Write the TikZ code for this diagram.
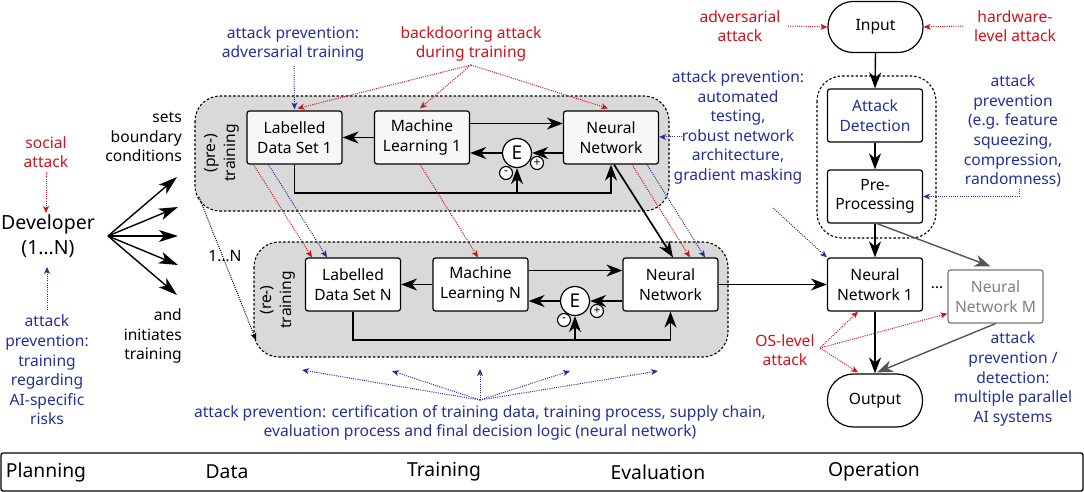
\documentclass[tikz,border=0pt]{standalone}
\usepackage{fontspec}
\setmainfont{Noto Sans}
\usetikzlibrary{arrows.meta,calc}
\definecolor{attred}{HTML}{D0121B}
\definecolor{prevblue}{HTML}{23309A}
\definecolor{areagray}{HTML}{D9D9DA}
\definecolor{mgray}{HTML}{555555}
\tikzset{
  every node/.style={font=\fontsize{15.6}{19.6}\selectfont, align=center, inner sep=0pt},
  box/.style={draw, line width=1.2pt, rounded corners=2.5pt, fill=white, minimum width=95pt, minimum height=53pt},
  pbox/.style={box, fill=black!3},
  stadium/.style={draw, line width=1.2pt, rounded corners=25pt, fill=white, minimum width=95pt, minimum height=51pt},
  area/.style={draw, dashed, dash pattern=on 2.5pt off 2pt, line width=1.1pt, fill=areagray, rounded corners=25pt},
  arr/.style={line width=1.4pt, -{Stealth[length=16pt,width=12pt,inset=5pt]}},
  darr/.style={line width=1.4pt, -{Stealth[length=19pt,width=12pt,inset=5pt]}},
  garr/.style={arr, draw=mgray, color=mgray},
  rdot/.style={attred, line width=1pt, dash pattern=on 1pt off 1.2pt, -{Stealth[length=7pt,width=6pt,inset=2pt]}},
  bdot/.style={prevblue, line width=1pt, dash pattern=on 1pt off 1.2pt, -{Stealth[length=7pt,width=6pt,inset=2pt]}},
  kdot/.style={black, line width=1pt, dash pattern=on 1pt off 1.2pt, -{Stealth[length=7pt,width=6pt,inset=2pt]}},
  ecirc/.style={draw, circle, line width=1.2pt, fill=white, minimum size=29pt, font=\fontsize{19}{20}\selectfont},
  scirc/.style={draw, circle, line width=1.1pt, fill=white, minimum size=13pt, font=\fontsize{12}{12}\selectfont},
  red/.style={text=attred},
  blue/.style={text=prevblue},
  phase/.style={font=\fontsize{19.3}{22}\selectfont},
}
\begin{document}
\begin{tikzpicture}[x=1pt,y=-1pt]
\useasboundingbox (0,0) rectangle (1084,492);

% areas
\draw[area] (195,96) rectangle (669,211);
\draw[area] (254,242) rectangle (728,357);
\draw[area, fill=none] (817,76) rectangle (936,238);

% pre-training boxes
\node[pbox] (LDS1) at (294.5,137.5) {Labelled\\Data Set 1};
\node[pbox] (ML1) at (422,137.5) {Machine\\Learning 1};
\node[pbox] (nnA) at (611,137.5) {Neural\\Network};
\node[ecirc] (E1) at (517,153) {E};
\node[scirc] (m1) at (506,173) {\raisebox{0.5pt}{-}};
\node[scirc] (p1) at (537,163) {+};
\node[rotate=90] (pretext) at (222,153) {(pre-)\\training};

% re-training boxes
\node[box] (LDSN) at (353,284.5) {Labelled\\Data Set N};
\node[box] (MLN) at (480.5,284.5) {Machine\\Learning N};
\node[box] (nnB) at (670.5,284.5) {Neural\\Network};
\node[ecirc] (EN) at (575,301) {E};
\node[scirc] (mN) at (564,320) {\raisebox{0.5pt}{-}};
\node[scirc] (pN) at (597,311) {+};
\node[rotate=90] (retext) at (278,300) {(re-)\\training};

% pre-training arrows
\draw[arr] ($(ML1.east)+(0,-14)$) -- ($(nnA.west)+(0,-14)$);
\draw[arr] (nnA.west |- E1) -- (E1);
\draw[arr] (E1) -- (ML1.east |- E1);
\draw[arr] (ML1.west) -- (LDS1.east);
\coordinate (fbA) at (294.5,193);
\draw[arr] (LDS1.south) -- (fbA) -| (nnA.south);
\draw[arr] (E1.south |- fbA) -- (E1.south);

% re-training arrows
\draw[arr] ($(MLN.east)+(0,-14)$) -- ($(nnB.west)+(0,-14)$);
\draw[arr] (nnB.west |- EN) -- (EN);
\draw[arr] (EN) -- (MLN.east |- EN);
\draw[arr] (MLN.west) -- (LDSN.east);
\coordinate (fbB) at (353,340);
\draw[arr] (LDSN.south) -- (fbB) -| (nnB.south);
\draw[arr] (EN.south |- fbB) -- (EN.south);

% operation
\node[stadium] (Input) at (875.5,27) {Input};
\node[box] (AD) at (875,115.5) {\textcolor{prevblue}{Attack}\\\textcolor{prevblue}{Detection}};
\node[box] (PP) at (875,196.5) {Pre-\\Processing};
\node[box] (NN1) at (875,284.5) {Neural\\Network 1};
\node[box, draw=mgray!80, text=black!50] (NNM) at (995.5,296.5) {Neural\\Network M};
\node (dots) at (937,288) {…};
\node[stadium, minimum height=53pt, rounded corners=26pt] (Output) at (875,400.5) {Output};

\draw[arr] (Input.south) -- (AD.north);
\draw[arr] (AD.south) -- (PP.north);
\draw[arr] (PP.south) -- (NN1.north);
\draw[garr] ($(PP.south)+(2,0)$) -- ($(NNM.north)+(-5,-3)$);
\draw[arr] (NN1.south) -- (Output.north);
\draw[garr] (NNM.south) -- ($(Output.north)+(2,-1)$);
\draw[arr] (nnB.east) -- (NN1.west);

% cross arrows pre -> re
\draw[line width=1.7pt, -{Stealth[length=16pt,width=12pt,inset=5pt]}] ($(nnA.south)+(3,0)$) -- ($(nnB.north)+(2.5,0)$);
\draw[rdot] ($(nnA.south)+(21,0)$) -- ($(nnB.north)+(19.5,0)$);
\draw[bdot] ($(nnA.south)+(36,0)$) -- ($(nnB.north)+(34.5,0)$);
\draw[rdot] ($(LDS1.south)+(-41,0)$) -- ($(LDSN.north)+(-41,0)$);
\draw[bdot] ($(LDS1.south)+(-26,0)$) -- ($(LDSN.north)+(-26,0)$);
\draw[rdot] ($(ML1.south)+(-2,0)$) -- ($(MLN.north)+(-2.5,0)$);
\coordinate (k1) at (199,197);
\coordinate (k2) at (256,340);
\draw[kdot] (k1) -- (k2);
\node (oneN) at (225,256) {1…N};

% developer
\node[font=\fontsize{19.5}{25}\selectfont] (dev) at (48,236) {Developer\\(1…N)};
\coordinate (d0) at (108,236);
\coordinate (d1) at (177,177);
\coordinate (d2) at (178,207);
\coordinate (d3) at (178,236);
\coordinate (d4) at (178,265);
\coordinate (d5) at (177,295);
\foreach \d in {d1,d2,d3,d4,d5} \draw[darr] (d0) -- (\d);
\node[anchor=east, align=right] (sets) at (182,137) {sets\\boundary\\conditions};
\node[anchor=east, align=right] (init) at (182,336) {and\\initiates\\training};

\node[red] (social) at (46,152) {social\\attack};
\coordinate (s1) at (46,172);
\coordinate (s2) at (46,213);
\draw[rdot] (s1) -- (s2);
\node[blue] (prevdev) at (47,370) {attack\\prevention:\\training\\regarding\\AI-specific\\risks};
\coordinate (b1) at (47,310);
\coordinate (b2) at (47,267);
\draw[bdot] (b1) -- (b2);

% top labels
\node[blue] (advtr) at (293,44) {attack prevention:\\adversarial training};
\coordinate (at1) at (294,66);
\draw[bdot] (at1) -- ($(LDS1.north)+(0,-1)$);
\node[red] (backd) at (471,44) {backdooring attack\\during training};
\coordinate (bd) at (471,65);
\draw[rdot] (bd) -- ($(LDS1.north)+(3,-2)$);
\draw[rdot] (bd) -- ($(ML1.north)+(-2,-2)$);
\draw[rdot] (bd) -- ($(nnA.north)+(-3,-2)$);

\node[blue] (robust) at (738,127.5) {attack prevention:\\automated\\testing,\\robust network\\architecture,\\gradient masking};
\coordinate (rb1) at (682,137);
\draw[bdot] (rb1) -- (nnA.east |- rb1);
\coordinate (rb2) at (773,208);
\draw[bdot] (rb2) -- (NN1.north west);

\node[red] (adv) at (740,26) {adversarial\\attack};
\coordinate (ad1) at (788,26);
\draw[rdot] (ad1) -- (Input.west);
\node[red] (hw) at (1015,26) {hardware-\\level attack};
\coordinate (hw1) at (963,26);
\draw[rdot] (hw1) -- (Input.east);

\node[blue] (feat) at (1013,131) {attack\\prevention\\(e.g. feature\\squeezing,\\compression,\\randomness)};
\coordinate (fq) at (1019,189);
\draw[bdot] (fq) |- (PP.east);

\node[red] (os) at (785,350) {OS-level\\attack};
\coordinate (os1) at (820,348);
\draw[rdot] (os1) -- ($(NN1.south)+(-17,0)$);
\draw[rdot] (os1) -- ($(NNM.south west)+(0,-10)$);
\draw[rdot] (os1) -- ($(Output.north)+(-17,-1)$);

\node[blue] (mult) at (1013,379) {attack\\prevention /\\detection:\\multiple parallel\\AI systems};

\node[blue] (cert) at (480,423) {attack prevention: certification of training data, training process, supply chain,\\evaluation process and final decision logic (neural network)};
\coordinate (c0) at (480,400);
\coordinate (c1) at (302,370);
\coordinate (c2) at (392,371);
\coordinate (c3) at (480,369);
\coordinate (c4) at (570,371);
\coordinate (c5) at (658,371);
\foreach \c in {c1,c2,c3,c4,c5} \draw[bdot] (c0) -- (\c);

% phase bar
\draw[line width=1.3pt, rounded corners=2pt] (1,453) rectangle (1083,491);
\node[phase] (ph1) at (46,472) {Planning};
\node[phase] (ph2) at (227,472) {Data};
\node[phase] (ph3) at (444,472) {Training};
\node[phase] (ph4) at (658,472) {Evaluation};
\node[phase] (ph5) at (874,472) {Operation};
\end{tikzpicture}
\end{document}
